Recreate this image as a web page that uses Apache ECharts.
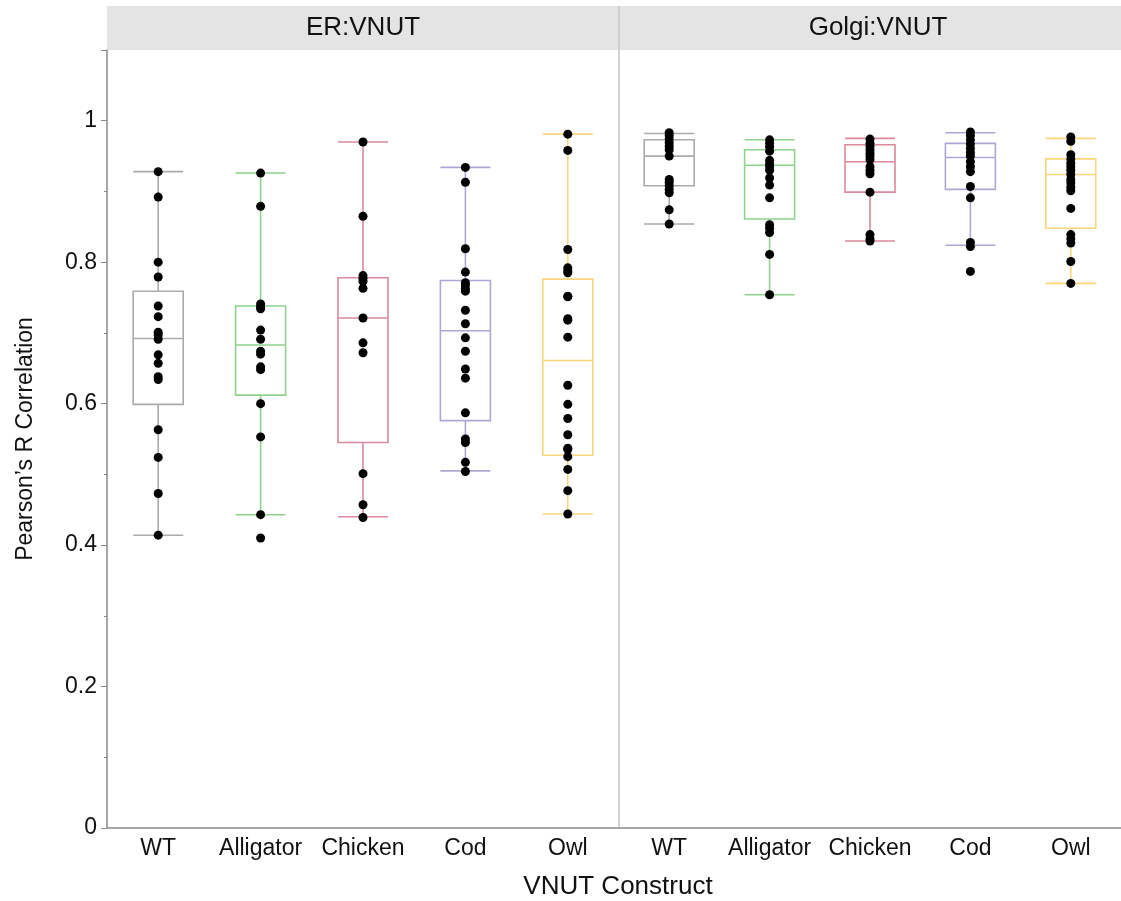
<!DOCTYPE html>
<html>
<head>
<meta charset="utf-8">
<script src="https://cdn.jsdelivr.net/npm/echarts@6/dist/echarts.min.js"></script>
<style>
  html, body { margin: 0; padding: 0; background: #fff; }
  #chart { width: 1121px; height: 901px; }
</style>
</head>
<body>
<div id="chart"></div>
<script>
// categories + colours of each construct
const categories = ['WT', 'Alligator', 'Chicken', 'Cod', 'Owl']
const boxColors = ['#ababab', '#8ed28e', '#d98a9b', '#aca8d3', '#fbd57e']

// ER:VNUT single cell values
const erWT = [0.928, 0.892, 0.800, 0.779, 0.738, 0.723, 0.701, 0.697, 0.691, 0.669, 0.657, 0.638, 0.634, 0.563, 0.524, 0.473, 0.414]
const erAlligator = [0.926, 0.879, 0.741, 0.737, 0.734, 0.704, 0.691, 0.674, 0.670, 0.652, 0.648, 0.600, 0.553, 0.443, 0.410]
const erChicken = [0.970, 0.865, 0.781, 0.777, 0.773, 0.763, 0.721, 0.686, 0.672, 0.501, 0.457, 0.439]
const erCod = [0.934, 0.913, 0.819, 0.786, 0.771, 0.768, 0.763, 0.759, 0.732, 0.713, 0.693, 0.674, 0.649, 0.636, 0.587, 0.550, 0.545, 0.517, 0.504]
const erOwl = [0.981, 0.958, 0.818, 0.792, 0.788, 0.785, 0.752, 0.751, 0.720, 0.718, 0.694, 0.626, 0.599, 0.579, 0.556, 0.537, 0.535, 0.525, 0.507, 0.477, 0.444]

// Golgi:VNUT single cell values
const golgiWT = [0.983, 0.979, 0.974, 0.969, 0.964, 0.959, 0.950, 0.917, 0.913, 0.908, 0.903, 0.898, 0.874, 0.854]
const golgiAlligator = [0.973, 0.968, 0.963, 0.957, 0.944, 0.939, 0.935, 0.930, 0.919, 0.909, 0.891, 0.853, 0.848, 0.842, 0.811, 0.754]
const golgiChicken = [0.974, 0.968, 0.964, 0.959, 0.954, 0.950, 0.945, 0.935, 0.930, 0.925, 0.899, 0.839, 0.833, 0.830]
const golgiCod = [0.984, 0.979, 0.973, 0.967, 0.961, 0.955, 0.950, 0.942, 0.935, 0.928, 0.907, 0.891, 0.828, 0.822, 0.787]
const golgiOwl = [0.977, 0.971, 0.952, 0.946, 0.940, 0.935, 0.930, 0.924, 0.917, 0.912, 0.906, 0.901, 0.876, 0.839, 0.833, 0.827, 0.801, 0.770]

// box stats: [lower whisker, Q1, median, Q3, upper whisker]
const erBoxes = [
  [0.414, 0.599, 0.692, 0.759, 0.928],
  [0.443, 0.612, 0.683, 0.738, 0.926],
  [0.440, 0.545, 0.721, 0.778, 0.970],
  [0.505, 0.576, 0.703, 0.774, 0.934],
  [0.444, 0.527, 0.661, 0.776, 0.981]
]
const golgiBoxes = [
  [0.854, 0.908, 0.950, 0.973, 0.982],
  [0.754, 0.861, 0.937, 0.959, 0.973],
  [0.830, 0.899, 0.942, 0.966, 0.975],
  [0.824, 0.903, 0.948, 0.968, 0.983],
  [0.770, 0.848, 0.924, 0.946, 0.975]
]

const yTicks = { min: 0, max: 1.1, interval: 0.2 }

const erGroups = [erWT, erAlligator, erChicken, erCod, erOwl]
const golgiGroups = [golgiWT, golgiAlligator, golgiChicken, golgiCod, golgiOwl]

function toPoints(groups) {
  let pts = []
  groups.forEach((vals, i) => {
    vals.forEach(v => pts.push([i, v]))
  })
  return pts
}

function toBoxData(boxes) {
  return boxes.map((b, i) => ({
    value: b,
    itemStyle: { color: 'transparent', borderColor: boxColors[i], borderWidth: 1.6 }
  }))
}

const font = 'Liberation Sans, Arial, sans-serif'
const axisGray = '#8a8a8a'

const chart = echarts.init(document.getElementById('chart'))

function xAxisFor(gridIndex) {
  return {
    type: 'category',
    gridIndex: gridIndex,
    data: categories,
    axisLine: { lineStyle: { color: axisGray, width: 1.5 } },
    axisTick: { show: false },
    axisLabel: { color: '#111', fontSize: 23, fontFamily: font, margin: 9, interval: 0 },
    splitLine: { show: false }
  }
}

const option = {
  animation: false,
  backgroundColor: '#fff',
  grid: [
    { left: 107, top: 50, width: 512, height: 778 },
    { left: 619, top: 50, width: 512, height: 778 }
  ],
  xAxis: [xAxisFor(0), xAxisFor(1)],
  yAxis: [
    {
      type: 'value',
      gridIndex: 0,
      min: yTicks.min,
      max: yTicks.max,
      interval: yTicks.interval,
      name: 'Pearson\u2019s R Correlation',
      nameLocation: 'middle',
      nameGap: 70,
      nameTextStyle: { color: '#111', fontSize: 23, fontFamily: font },
      axisLine: { show: true, lineStyle: { color: axisGray, width: 1.5 } },
      axisTick: { show: true, length: 6, lineStyle: { color: axisGray } },
      minorTick: { show: true, splitNumber: 2, length: 3, lineStyle: { color: axisGray } },
      axisLabel: {
        color: '#111', fontSize: 23, fontFamily: font, margin: 10, showMaxLabel: false,
        formatter: v => (Math.abs(v - 1.1) < 1e-6 ? '' : String(+v.toFixed(1)))
      },
      splitLine: { show: false }
    },
    {
      type: 'value',
      gridIndex: 1,
      min: yTicks.min,
      max: yTicks.max,
      interval: yTicks.interval,
      axisLine: { show: false },
      axisTick: { show: false },
      axisLabel: { show: false },
      splitLine: { show: false }
    }
  ],
  graphic: [
    { type: 'rect', shape: { x: 107, y: 6, width: 1014, height: 44 }, style: { fill: '#e4e4e4' }, z: 0 },
    { type: 'line', shape: { x1: 619, y1: 6, x2: 619, y2: 828 }, style: { stroke: '#c4c4c4', lineWidth: 1.5 }, z: 1 },
    { type: 'text', x: 363, y: 28, style: { text: 'ER:VNUT', fontSize: 26, fontFamily: font, fill: '#111', align: 'center', verticalAlign: 'middle' } },
    { type: 'text', x: 878, y: 28, style: { text: 'Golgi:VNUT', fontSize: 26, fontFamily: font, fill: '#111', align: 'center', verticalAlign: 'middle' } },
    { type: 'text', x: 618, y: 887, style: { text: 'VNUT Construct', fontSize: 26, fontFamily: font, fill: '#111', align: 'center', verticalAlign: 'middle' } }
  ],
  series: [
    {
      type: 'boxplot',
      xAxisIndex: 0,
      yAxisIndex: 0,
      boxWidth: [50, 50],
      data: toBoxData(erBoxes),
      z: 2
    },
    {
      type: 'boxplot',
      xAxisIndex: 1,
      yAxisIndex: 1,
      boxWidth: [50, 50],
      data: toBoxData(golgiBoxes),
      z: 2
    },
    {
      type: 'scatter',
      xAxisIndex: 0,
      yAxisIndex: 0,
      symbolSize: 9,
      itemStyle: { color: '#000', opacity: 1 },
      data: toPoints(erGroups),
      z: 5
    },
    {
      type: 'scatter',
      xAxisIndex: 1,
      yAxisIndex: 1,
      symbolSize: 9,
      itemStyle: { color: '#000', opacity: 1 },
      data: toPoints(golgiGroups),
      z: 5
    }
  ]
}

chart.setOption(option)
</script>
</body>
</html>
